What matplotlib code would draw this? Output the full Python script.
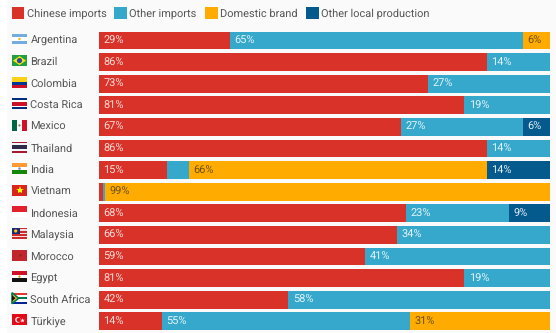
import numpy as np
import matplotlib
matplotlib.use("Agg")
import matplotlib.pyplot as plt
from matplotlib.patches import Rectangle, Polygon, Circle

plt.rcParams['font.family'] = ['Roboto', 'DejaVu Sans']
plt.rcParams['text.hinting'] = 'no_hinting'
plt.rcParams['text.hinting_factor'] = 1

W, H = 556, 333
FS = 7.75

countries = ["Argentina", "Brazil", "Colombia", "Costa Rica", "Mexico", "Thailand", "India",
             "Vietnam", "Indonesia", "Malaysia", "Morocco", "Egypt", "South Africa", "Türkiye"]
series_names = ["Chinese imports", "Other imports", "Domestic brand", "Other local production"]
chinese = [29, 86, 73, 81, 67, 86, 15, 0.9, 68, 66, 59, 81, 42, 14]
other_imports = [65, 14, 27, 19, 27, 14, 5, 0.4, 23, 34, 41, 19, 58, 55]
domestic = [6, 0, 0, 0, 0, 0, 66, 99, 0, 0, 0, 0, 0, 31]
other_local = [0, 0, 0, 0, 6, 0, 14, 0, 9, 0, 0, 0, 0, 0]

colors = ["#d93329", "#36a8cc", "#ffab00", "#045a8d"]
label_colors = ["#f6dcd8", "#e2f3f8", "#6b5210", "#e2eef5"]
# slices too small to carry a readable label
min_label = 4
hidden_labels = {("India", 1)}

# horizontal stripes per flag, top to bottom
flag_stripes = {
    "Argentina": ["#74acdf", "#ffffff", "#74acdf"],
    "Brazil": ["#229e45"],
    "Colombia": ["#fcd116", "#fcd116", "#003893", "#ce1126"],
    "Costa Rica": ["#002b7f", "#ffffff", "#ce1126", "#ce1126", "#ffffff", "#002b7f"],
    "Mexico": ["#ffffff"],
    "Thailand": ["#a51931", "#f4f5f8", "#2d2a4a", "#2d2a4a", "#f4f5f8", "#a51931"],
    "India": ["#ff9933", "#ffffff", "#138808"],
    "Vietnam": ["#da251d"],
    "Indonesia": ["#e4202c", "#ffffff"],
    "Malaysia": ["#cc2b2b", "#f6dcdc", "#cc2b2b", "#f6dcdc", "#cc2b2b", "#f6dcdc", "#cc2b2b"],
    "Morocco": ["#c1272d"],
    "Egypt": ["#ce1126", "#ffffff", "#111111"],
    "South Africa": ["#de3831", "#ffffff", "#007a4d", "#ffffff", "#002395"],
    "Türkiye": ["#e30a17"],
}

fig = plt.figure(figsize=(W / 100, H / 100), dpi=100, facecolor="#ffffff")

# overlay in pixel units for the panel, legend and flags
bg = fig.add_axes([0, 0, 1, 1])
bg.set_xlim(0, W)
bg.set_ylim(H, 0)
bg.axis("off")
bg.add_patch(Rectangle((7, 0), W - 7, H, fc="#fafafa", ec="none"))

ax = fig.add_axes([99 / W, 0.9 / H, 451 / W, 302.4 / H])
ax.patch.set_alpha(0)
y = np.arange(len(countries))
left = np.zeros(len(countries))
for j, vals in enumerate([chinese, other_imports, domestic, other_local]):
    vals = np.array(vals, dtype=float)
    ax.barh(y, vals, left=left, height=0.83, color=colors[j], linewidth=0)
    for i, v in enumerate(vals):
        if v >= min_label and (countries[i], j) not in hidden_labels:
            ax.text(left[i] + 1, i + 0.16, f"{v:.0f}%", color=label_colors[j], fontsize=FS,
                    va="baseline", ha="left")
    left += vals
ax.set_xlim(0, 100)
ax.set_ylim(len(countries) - 0.5, -0.5)
ax.axis("off")

# legend row
legend_x = [11.5, 114, 205, 306]
for name, c, lx in zip(series_names, colors, legend_x):
    bg.add_patch(Rectangle((lx, 6.5), 12.5, 12.5, fc=c, ec="none"))
    bg.text(lx + 15.2, 17, name, fontsize=FS, color="#555555", va="baseline", ha="left")


def draw_flag(name, cy):
    x0, w, h = 12, 15, 11
    top = cy - h / 2
    stripes = flag_stripes[name]
    sh = h / len(stripes)
    for k, c in enumerate(stripes):
        bg.add_patch(Rectangle((x0, top + k * sh), w, sh, fc=c, ec="none"))
    if name == "Argentina":
        bg.add_patch(Circle((x0 + w / 2, cy), 1.2, fc="#f6b40e", ec="none"))
    elif name == "Brazil":
        bg.add_patch(Polygon([(x0 + 1, cy), (x0 + w / 2, top + 1), (x0 + w - 1, cy), (x0 + w / 2, top + h - 1)],
                             fc="#f8e509", ec="none"))
        bg.add_patch(Circle((x0 + w / 2, cy), 2.6, fc="#2b49a3", ec="none"))
    elif name == "Mexico":
        bg.add_patch(Rectangle((x0, top), 5, h, fc="#006847", ec="none"))
        bg.add_patch(Rectangle((x0 + 10, top), 5, h, fc="#ce1126", ec="none"))
        bg.add_patch(Circle((x0 + w / 2, cy), 1.1, fc="#8a6b3a", ec="none"))
    elif name == "India":
        bg.add_patch(Circle((x0 + w / 2, cy), 1.3, fc="#7f8fc0", ec="none"))
    elif name == "Vietnam":
        bg.plot([x0 + w / 2], [cy], marker="*", ms=6, color="#ffff00", mew=0)
    elif name == "Malaysia":
        bg.add_patch(Rectangle((x0, top), 7.5, 6.3, fc="#1a2a78", ec="none"))
        bg.add_patch(Circle((x0 + 3.7, top + 3.1), 1.6, fc="#ffcc00", ec="none"))
    elif name == "Morocco":
        bg.plot([x0 + w / 2], [cy], marker="*", ms=3, color="#8c2a20", mew=0)
    elif name == "Egypt":
        bg.add_patch(Circle((x0 + w / 2, cy), 1.1, fc="#c09300", ec="none"))
    elif name == "South Africa":
        bg.add_patch(Polygon([(x0, top), (x0 + 6.5, cy), (x0, top + h)], fc="#ffb612", ec="#007a4d", lw=1.2))
        bg.add_patch(Polygon([(x0, top + 2.5), (x0 + 3.6, cy), (x0, top + h - 2.5)], fc="#111111", ec="none"))
    elif name == "Türkiye":
        bg.add_patch(Circle((x0 + 6, cy), 2.8, fc="#ffffff", ec="none"))
        bg.add_patch(Circle((x0 + 6.8, cy), 2.2, fc="#e30a17", ec="none"))
        bg.plot([x0 + 9.8], [cy], marker="*", ms=3.5, color="#ffffff", mew=0)


# country column
for i, name in enumerate(countries):
    cy = 40.5 + i * 21.6
    draw_flag(name, cy - 1.5)
    bg.text(30.5, cy + 3.2, name, fontsize=FS, color="#555555", va="baseline", ha="left")

fig.savefig("out.png", dpi=100, facecolor=fig.get_facecolor())
